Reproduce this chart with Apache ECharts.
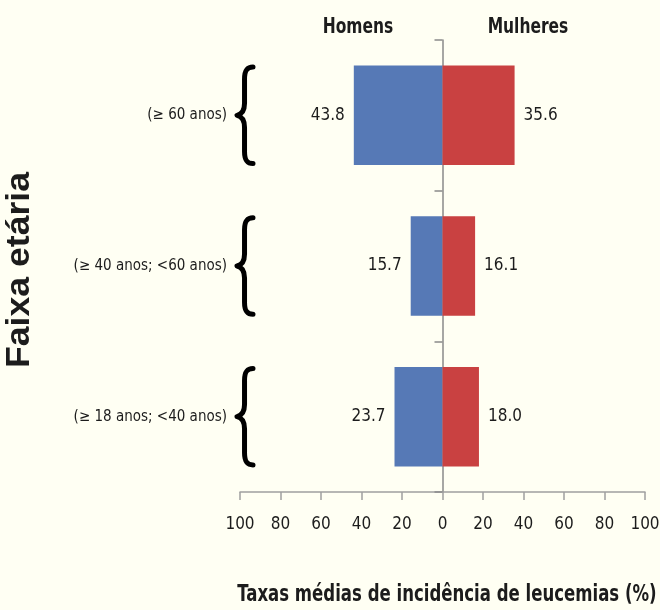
<!DOCTYPE html>
<html>
<head>
    <meta charset="utf-8">
    <title>Taxas médias de incidência de leucemias</title>
    <script src="https://cdn.jsdelivr.net/npm/echarts@6/dist/echarts.min.js"></script>
    <style>
        html, body { margin: 0; padding: 0; background: #fffff3; }
    </style>
</head>
<body>
<div id="main" style="width: 660px;height:610px;"></div>
<script>
    // faixas etárias (de baixo para cima)
    var faixas = ['(≥ 18 anos; <40 anos)', '(≥ 40 anos; <60 anos)', '(≥ 60 anos)'];
    var homens = [23.7, 15.7, 43.8];
    var mulheres = [18.0, 16.1, 35.6];
    var xTicks = [-100, -80, -60, -40, -20, 0, 20, 40, 60, 80, 100];

    var fonte = "'Liberation Sans Narrow', 'DejaVu Sans Condensed', sans-serif";
    var corTexto = '#1c1c1c';

    // chave "{" desenhada numa caixa 17x100
    var chavePath = 'M17 2 C 10 2, 8 6, 8 14 L 8 38 C 8 45, 5 49, 0 50 C 5 51, 8 55, 8 62 L 8 86 C 8 94, 10 98, 17 98';

    var myChart = echarts.init(document.getElementById('main'));

    // textos estreitos (fonte condensada achatada)
    function texto(t, x, y, tam, sx, rot, familia) {
        return {
            type: 'text', x: x, y: y, scaleX: sx, rotation: rot || 0,
            style: {
                text: t, font: 'bold ' + tam + 'px ' + (familia || fonte), fill: corTexto,
                textAlign: 'center', textVerticalAlign: 'middle'
            }
        };
    }

    var option = {
        backgroundColor: '#fffff3',
        animation: false,
        grid: {left: 240, right: 15, top: 40, bottom: 118, containLabel: false, outerBoundsMode: 'none'},
        graphic: [
            texto('Homens', 358, 28, 21, 0.82),
            texto('Mulheres', 528, 28, 21, 0.82),
            texto('Taxas médias de incidência de leucemias (%)', 447, 595, 23, 0.8),
            texto('Faixa etária', 20, 270, 33, 1.08, Math.PI / 2, "'Liberation Sans', Arial, sans-serif")
        ],
        xAxis: {
            type: 'value',
            min: xTicks[0],
            max: xTicks[xTicks.length - 1],
            interval: 20,
            axisLine: {show: true, lineStyle: {color: '#a0a0a0', width: 1.5}},
            axisTick: {show: true, length: 8, lineStyle: {color: '#a0a0a0', width: 1.5}},
            splitLine: {show: false},
            axisLabel: {
                margin: 24,
                fontFamily: fonte,
                fontSize: 17,
                color: corTexto,
                formatter: function (v) { return Math.abs(v); }
            }
        },
        yAxis: [
            {
                type: 'category',
                data: faixas,
                position: 'left',
                axisLine: {show: false, onZero: false},
                axisTick: {show: false},
                axisLabel: {margin: 13, fontFamily: fonte, fontSize: 15, color: corTexto}
            },
            {
                type: 'category',
                data: faixas,
                position: 'left',
                axisLine: {show: true, onZero: true, lineStyle: {color: '#8a8a8a', width: 1.5}},
                axisTick: {show: true, length: 8, lineStyle: {color: '#8a8a8a', width: 1.5}},
                axisLabel: {show: false}
            }
        ],
        series: [
            {
                name: 'Homens',
                type: 'bar',
                stack: 'total',
                barCategoryGap: '34%',
                itemStyle: {color: '#5679b6'},
                label: {
                    show: true, position: 'left', distance: 9,
                    fontFamily: fonte, fontSize: 17, color: corTexto,
                    formatter: function (p) { return Math.abs(p.value).toFixed(1); }
                },
                data: homens.map(function (v) { return -v; })
            },
            {
                name: 'Mulheres',
                type: 'bar',
                stack: 'total',
                barCategoryGap: '34%',
                itemStyle: {color: '#c94141'},
                label: {
                    show: true, position: 'right', distance: 9,
                    fontFamily: fonte, fontSize: 17, color: corTexto,
                    formatter: function (p) { return p.value.toFixed(1); }
                },
                data: mulheres
            },
            {
                // chaves ao lado de cada faixa etária
                type: 'custom',
                silent: true,
                data: faixas.map(function (f, i) { return [xTicks[0], i]; }),
                renderItem: function (params, api) {
                    var p = api.coord([api.value(0), api.value(1)]);
                    var h = api.size([0, 1])[1] * 0.64;
                    return {
                        type: 'path',
                        shape: {pathData: chavePath, layout: 'cover', x: p[0] - 3, y: p[1] - h / 2, width: 16, height: h},
                        style: {stroke: '#000', lineWidth: 5, fill: null, lineCap: 'round', lineJoin: 'round'}
                    };
                }
            }
        ]
    };
    myChart.setOption(option);
</script>
</body>
</html>
